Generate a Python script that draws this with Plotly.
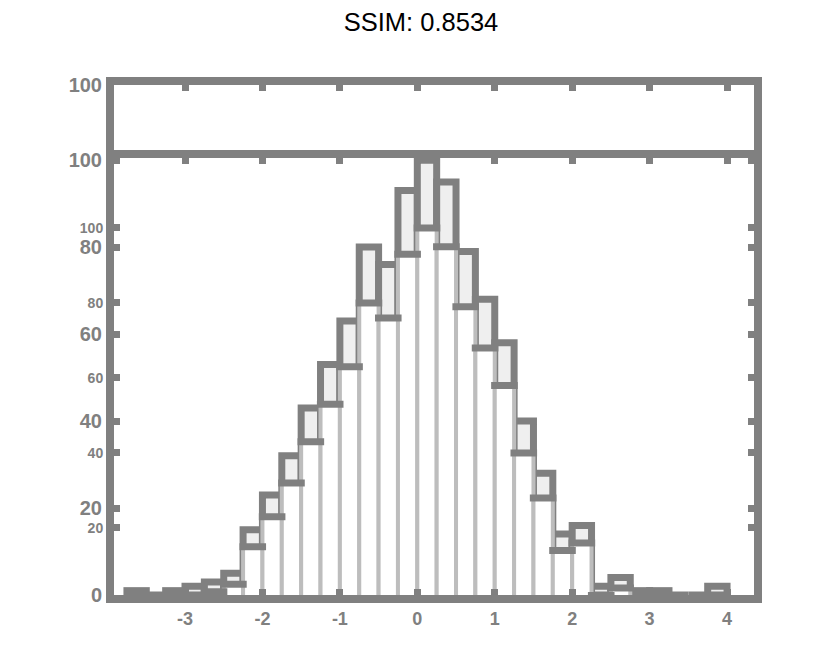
import plotly.graph_objects as go

# histogram bins (centres, width 0.25) and counts
bin_centers = [-3.625, -3.375, -3.125, -2.875, -2.625, -2.375, -2.125, -1.875,
               -1.625, -1.375, -1.125, -0.875, -0.625, -0.375, -0.125, 0.125,
               0.375, 0.625, 0.875, 1.125, 1.375, 1.625, 1.875, 2.125,
               2.375, 2.625, 2.875, 3.125, 3.375, 3.625, 3.875]
counts = [1, 0, 1, 2, 3, 5, 15, 23,
          32, 43, 53, 63, 80, 76, 93, 100,
          95, 79, 68, 58, 40, 28, 14, 16,
          2, 4, 1, 1, 0, 0, 2]
x_ticks = [-3, -2, -1, 0, 1, 2, 3, 4]
x_tick_text = ["-3", "-2", "-1", "0", "1", "2", "3", "4"]
y_ticks = [0, 20, 40, 60, 80, 100]
y_ticks_ghost = [20, 40, 60, 80, 100]
title_text = "SSIM: 0.8534"

GRAY = "#808080"
LIGHT = "#bdbdbd"
FONT = "Liberation Sans, Arial, sans-serif"

fig = go.Figure()
fig.add_trace(go.Bar(x=bin_centers, y=counts, width=0.25,
                     marker=dict(color="#efefef", line=dict(color=GRAY, width=7)),
                     xaxis="x", yaxis="y", showlegend=False, hoverinfo="skip"))
fig.add_trace(go.Bar(x=bin_centers, y=counts, width=0.25,
                     marker=dict(color="white", line=dict(color=LIGHT, width=4)),
                     xaxis="x", yaxis="y3", showlegend=False, hoverinfo="skip"))
fig.add_trace(go.Scatter(x=bin_centers, y=counts, mode="markers",
                         marker=dict(symbol="line-ew", size=19,
                                     line=dict(color=GRAY, width=7)),
                         xaxis="x", yaxis="y3", showlegend=False, hoverinfo="skip"))
fig.add_trace(go.Scatter(x=[], y=[], xaxis="x2", yaxis="y2", showlegend=False))

common = dict(showline=True, linewidth=8, linecolor=GRAY, showgrid=False,
              zeroline=False, ticks="inside", ticklen=6, tickwidth=7, tickcolor=GRAY)

x_range = [-3.917, 4.348]
main_top = 0.8569
top_bottom = 0.8725
fig.update_layout(
    width=840, height=664,
    margin=dict(l=106, r=94, t=77, b=77),
    paper_bgcolor="white", plot_bgcolor="white",
    title=dict(text=title_text, x=413 / 840, xanchor="center", y=1 - 14 / 664,
               yref="container", yanchor="middle",
               font=dict(family=FONT, size=25.5, color="black")),
    xaxis=dict(**common, mirror="ticks", range=x_range, anchor="y",
               tickvals=x_ticks, ticktext=x_tick_text,
               tickfont=dict(family=FONT, size=18, color=GRAY, weight="bold")),
    yaxis=dict(**common, mirror="ticks", domain=[0, main_top], range=[0, 100.5],
               tickvals=y_ticks, anchor="x",
               tickfont=dict(family=FONT, size=20, color=GRAY, weight="bold")),
    yaxis3=dict(**common, mirror="ticks", overlaying="y",
                side="left", range=[2.13, 118.67], tickvals=y_ticks_ghost, anchor="x",
                tickfont=dict(family=FONT, size=14, color=GRAY, weight="bold")),
    xaxis2=dict(**common, mirror=True, side="top", range=x_range, anchor="y2",
                tickvals=x_ticks, showticklabels=False),
    yaxis2=dict(**{**common, "ticks": ""}, mirror=True, domain=[top_bottom, 1],
                range=[0, 100], tickvals=[100], anchor="x2",
                tickfont=dict(family=FONT, size=20, color=GRAY, weight="bold")),
)

fig.write_html("out.html")
